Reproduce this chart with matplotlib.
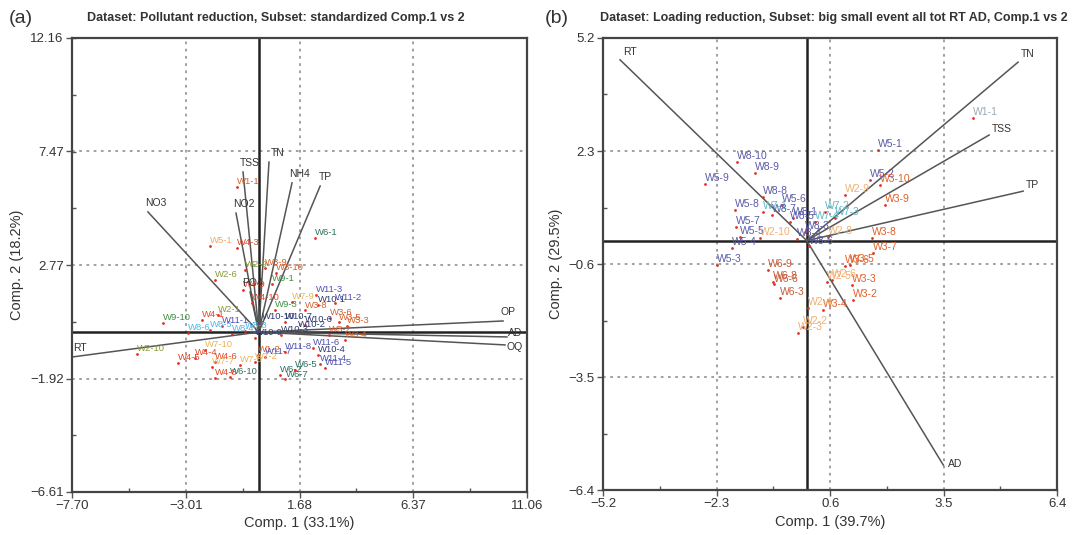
import matplotlib.pyplot as plt
from matplotlib.ticker import AutoMinorLocator

plt.rcParams["font.family"] = ["Liberation Sans", "DejaVu Sans"]

# ---- panel (a): Pollutant reduction ----
a_xticks = [-7.70, -3.01, 1.68, 6.37, 11.06]
a_yticks = [-6.61, -1.92, 2.77, 7.47, 12.16]
a_xticklabels = ["\u22127.70", "\u22123.01", "1.68", "6.37", "11.06"]
a_yticklabels = ["\u22126.61", "\u22121.92", "2.77", "7.47", "12.16"]

a_load_names = ["TSS", "TN", "NH4", "TP", "NO3", "NO2", "PO4", "RT", "OP", "AD", "OQ"]
a_load_x = [-0.65, 0.42, 1.37, 2.53, -4.57, -0.94, -0.36, -7.70, 10.07, 10.23, 10.15]
a_load_y = [6.62, 7.03, 6.17, 6.04, 4.97, 4.92, 1.66, -1.03, 0.46, -0.20, -0.53]

a_obs = ["W1-1", "W5-1", "W4-3", "W6-1", "W2-9", "W3-9", "W3-10", "W2-6", "W9-1",
         "W4-9", "W4-10", "W9-10", "W4-1", "W2-1", "W11-3", "W10-1", "W11-2",
         "W7-9", "W3-8", "W3-6", "W3-5", "W3-3", "W9-3", "W10-10", "W10-7",
         "W10-6", "W8-6", "W8-5", "W8-4", "W8-3", "W11-1", "W7-10", "W2-10",
         "W4-5", "W4-6", "W4-4", "W7-7", "W7-8", "W6-10", "W4-8", "W1-2",
         "W10-9", "W11-7", "W11-8", "W7-2", "W6-2", "W6-5", "W6-7", "W11-6",
         "W10-4", "W11-4", "W11-5", "W3-4", "W3-2", "W10-3", "W10-2"]
a_obs_x = [-0.90, -2.01, -0.90, 2.32, -0.57, 0.26, 0.70, -1.80, 0.55,
           -0.65, -0.30, -3.95, -2.34, -1.70, 2.36, 2.44, 3.14,
           1.37, 1.90, 2.94, 3.30, 3.64, 0.67, 0.13, 1.08,
           1.90, -2.92, -2.01, -1.10, -0.57, -1.52, -2.22, -5.02,
           -3.33, -1.80, -2.63, -1.93, -0.77, -1.19, -1.80, -0.03,
           -0.16, 0.26, 1.08, -0.16, 0.88, 1.49, 1.10, 2.24,
           2.44, 2.53, 2.73, 3.56, 2.90, 0.90, 1.60]
a_obs_y = [6.00, 3.56, 3.48, 3.89, 2.57, 2.65, 2.45, 2.16, 1.99,
           1.74, 1.20, 0.38, 0.50, 0.70, 1.54, 1.12, 1.21,
           1.25, 0.90, 0.58, 0.40, 0.25, 0.92, 0.42, 0.42,
           0.30, -0.04, 0.09, -0.08, 0.05, 0.26, -0.74, -0.90,
           -1.28, -1.23, -1.07, -1.44, -1.36, -1.85, -1.90, -0.94,
           -0.24, -1.03, -0.82, -1.23, -1.77, -1.56, -1.95, -0.66,
           -0.94, -1.32, -1.48, -0.33, -0.10, -0.10, 0.10]

# ---- panel (b): Loading reduction ----
b_xticks = [-5.2, -2.3, 0.6, 3.5, 6.4]
b_yticks = [-6.4, -3.5, -0.6, 2.3, 5.2]
b_xticklabels = ["\u22125.2", "\u22122.3", "0.6", "3.5", "6.4"]
b_yticklabels = ["\u22126.4", "\u22123.5", "\u22120.6", "2.3", "5.2"]

b_load_names = ["RT", "TN", "TSS", "TP", "AD"]
b_load_x = [-4.77, 5.40, 4.66, 5.53, 3.49]
b_load_y = [4.64, 4.58, 2.71, 1.27, -5.76]

b_obs = ["W8-10", "W8-9", "W5-9", "W8-8", "W5-6", "W5-8", "W7-1", "W8-7", "W8-1",
         "W5-7", "W5-5", "W2-10", "W5-4", "W5-3", "W6-9", "W6-8", "W6-6", "W6-3",
         "W5-1", "W1-1", "W5-2", "W3-10", "W2-9", "W3-9", "W7-2", "W7-3", "W7-4",
         "W3-8", "W2-8", "W3-7", "W3-6", "W3-5", "W2-6", "W3-3", "W3-2", "W2-5",
         "W3-4", "W2-4", "W2-3", "W2-2", "W8-3", "W8-5", "W8-4", "W8-6"]
b_obs_x = [-1.78, -1.32, -2.59, -1.11, -0.63, -1.83, -1.11, -0.88, -0.35,
           -1.80, -1.70, -1.19, -1.90, -2.29, -0.98, -0.86, -0.84, -0.68,
           1.83, 4.25, 1.62, 1.88, 0.98, 2.00, 0.47, 0.73, 0.22,
           1.67, 0.55, 1.70, 0.98, 1.10, 0.65, 1.16, 1.19, 0.52,
           0.42, 0.04, -0.22, -0.09, -0.04, -0.42, -0.25, 0.05]
b_obs_y = [2.02, 1.74, 1.45, 1.12, 0.91, 0.79, 0.73, 0.66, 0.58,
           0.35, 0.09, 0.07, -0.19, -0.62, -0.75, -1.06, -1.12, -1.47,
           2.33, 3.15, 1.56, 1.43, 1.17, 0.91, 0.73, 0.58, 0.48,
           0.07, 0.10, -0.32, -0.65, -0.62, -1.01, -1.14, -1.52, -1.06,
           -1.78, -1.73, -2.37, -2.22, 0.22, 0.48, 0.05, -0.15]

# site colours (by prefix of the observation name)
a_colors = {"W1": "#d8602c", "W2": "#8a9a3a", "W3": "#d8602c", "W4": "#e0452a",
            "W5": "#f0a860", "W6": "#2f6f5f", "W7": "#e8b35a", "W8": "#55b5e5",
            "W9": "#3f8f3f", "W10": "#2e3a6e", "W11": "#5050b0"}
b_colors = {"W1": "#9aaab8", "W2": "#f0b070", "W3": "#e0602a", "W5": "#5a5aa8",
            "W6": "#c85a35", "W7": "#60b8c8", "W8": "#5a5aa8"}

# label offsets (points) for loadings
a_load_off = {"TSS": (-2, 3), "TN": (1, 3), "NH4": (-2, 3), "TP": (-1, 3), "NO3": (-2, 3),
              "NO2": (-2, 3), "PO4": (-6, 3), "RT": (1, 3), "OP": (-2, 3), "AD": (1, -1),
              "OQ": (1, -5)}
b_load_off = {"RT": (2, 2), "TN": (2, 2), "TSS": (2, 1), "TP": (2, 1), "AD": (3, -3)}


def draw_panel(ax, xticks, yticks, xtl, ytl, lnames, lx, ly, loff,
               obs, ox, oy, cmap, fs_obs):
    ax.set_xlim(xticks[0], xticks[-1])
    ax.set_ylim(yticks[0], yticks[-1])
    ax.set_xticks(xticks)
    ax.set_yticks(yticks)
    ax.set_xticklabels(xtl, fontsize=9.5)
    ax.set_yticklabels(ytl, fontsize=9.5)
    ax.xaxis.set_minor_locator(AutoMinorLocator(2))
    ax.yaxis.set_minor_locator(AutoMinorLocator(2))
    ax.tick_params(which="major", direction="out", length=4, width=1, color="#555555",
                   pad=2, labelcolor="#333333")
    ax.tick_params(which="minor", direction="in", length=3, width=1, color="#555555")
    for s in ax.spines.values():
        s.set_linewidth(1.6)
        s.set_color("#444444")
    for t in xticks[1:-1]:
        ax.axvline(t, color="#999999", ls=(0, (1.5, 2.5)), lw=1.3, zorder=0)
    for t in yticks[1:-1]:
        ax.axhline(t, color="#999999", ls=(0, (1.5, 2.5)), lw=1.3, zorder=0)
    ax.axvline(0, color="#222222", lw=1.8, zorder=1)
    ax.axhline(0, color="#222222", lw=1.8, zorder=1)

    # observations
    for name, x, y in zip(obs, ox, oy):
        c = cmap[name.split("-")[0]]
        ax.scatter(x, y, s=4, color="#e03020", zorder=3, linewidths=0)
        ax.annotate(name, (x, y), xytext=(0, 0.5), textcoords="offset points",
                    fontsize=fs_obs, color=c, ha="left", va="bottom", zorder=4)

    # loadings
    for name, x, y in zip(lnames, lx, ly):
        ax.plot([0, x], [0, y], color="#555555", lw=1.1, zorder=2)
        ax.annotate(name, (x, y), xytext=loff[name], textcoords="offset points",
                    fontsize=7.5, color="#333333", ha="left", va="bottom", zorder=5)


fig = plt.figure(figsize=(10.81, 5.35), dpi=100)
ax1 = fig.add_axes([0.0666, 0.0804, 0.421, 0.8486])
ax2 = fig.add_axes([0.558, 0.084, 0.420, 0.845])

draw_panel(ax1, a_xticks, a_yticks, a_xticklabels, a_yticklabels,
           a_load_names, a_load_x, a_load_y, a_load_off,
           a_obs, a_obs_x, a_obs_y, a_colors, 6.8)
draw_panel(ax2, b_xticks, b_yticks, b_xticklabels, b_yticklabels,
           b_load_names, b_load_x, b_load_y, b_load_off,
           b_obs, b_obs_x, b_obs_y, b_colors, 7.5)

ax1.set_xlabel("Comp. 1 (33.1%)", fontsize=10.5, labelpad=3, color="#333333")
ax1.set_ylabel("Comp. 2 (18.2%)", fontsize=10.5, labelpad=4, color="#333333")
ax2.set_xlabel("Comp. 1 (39.7%)", fontsize=10.5, labelpad=3, color="#333333")
ax2.set_ylabel("Comp. 2 (29.5%)", fontsize=10.5, labelpad=4, color="#333333")

fig.text(0.008, 0.966, "(a)", fontsize=14, va="center", ha="left", color="#333333")
fig.text(0.255, 0.966, "Dataset: Pollutant reduction, Subset: standardized Comp.1 vs 2",
         fontsize=9, fontweight="bold", ha="center", va="center", color="#333333")
fig.text(0.504, 0.966, "(b)", fontsize=14, va="center", ha="left", color="#333333")
fig.text(0.771, 0.966, "Dataset: Loading reduction, Subset: big small event all tot RT AD, Comp.1 vs 2",
         fontsize=9, fontweight="bold", ha="center", va="center", color="#333333")

fig.savefig("out.png", dpi=100)
